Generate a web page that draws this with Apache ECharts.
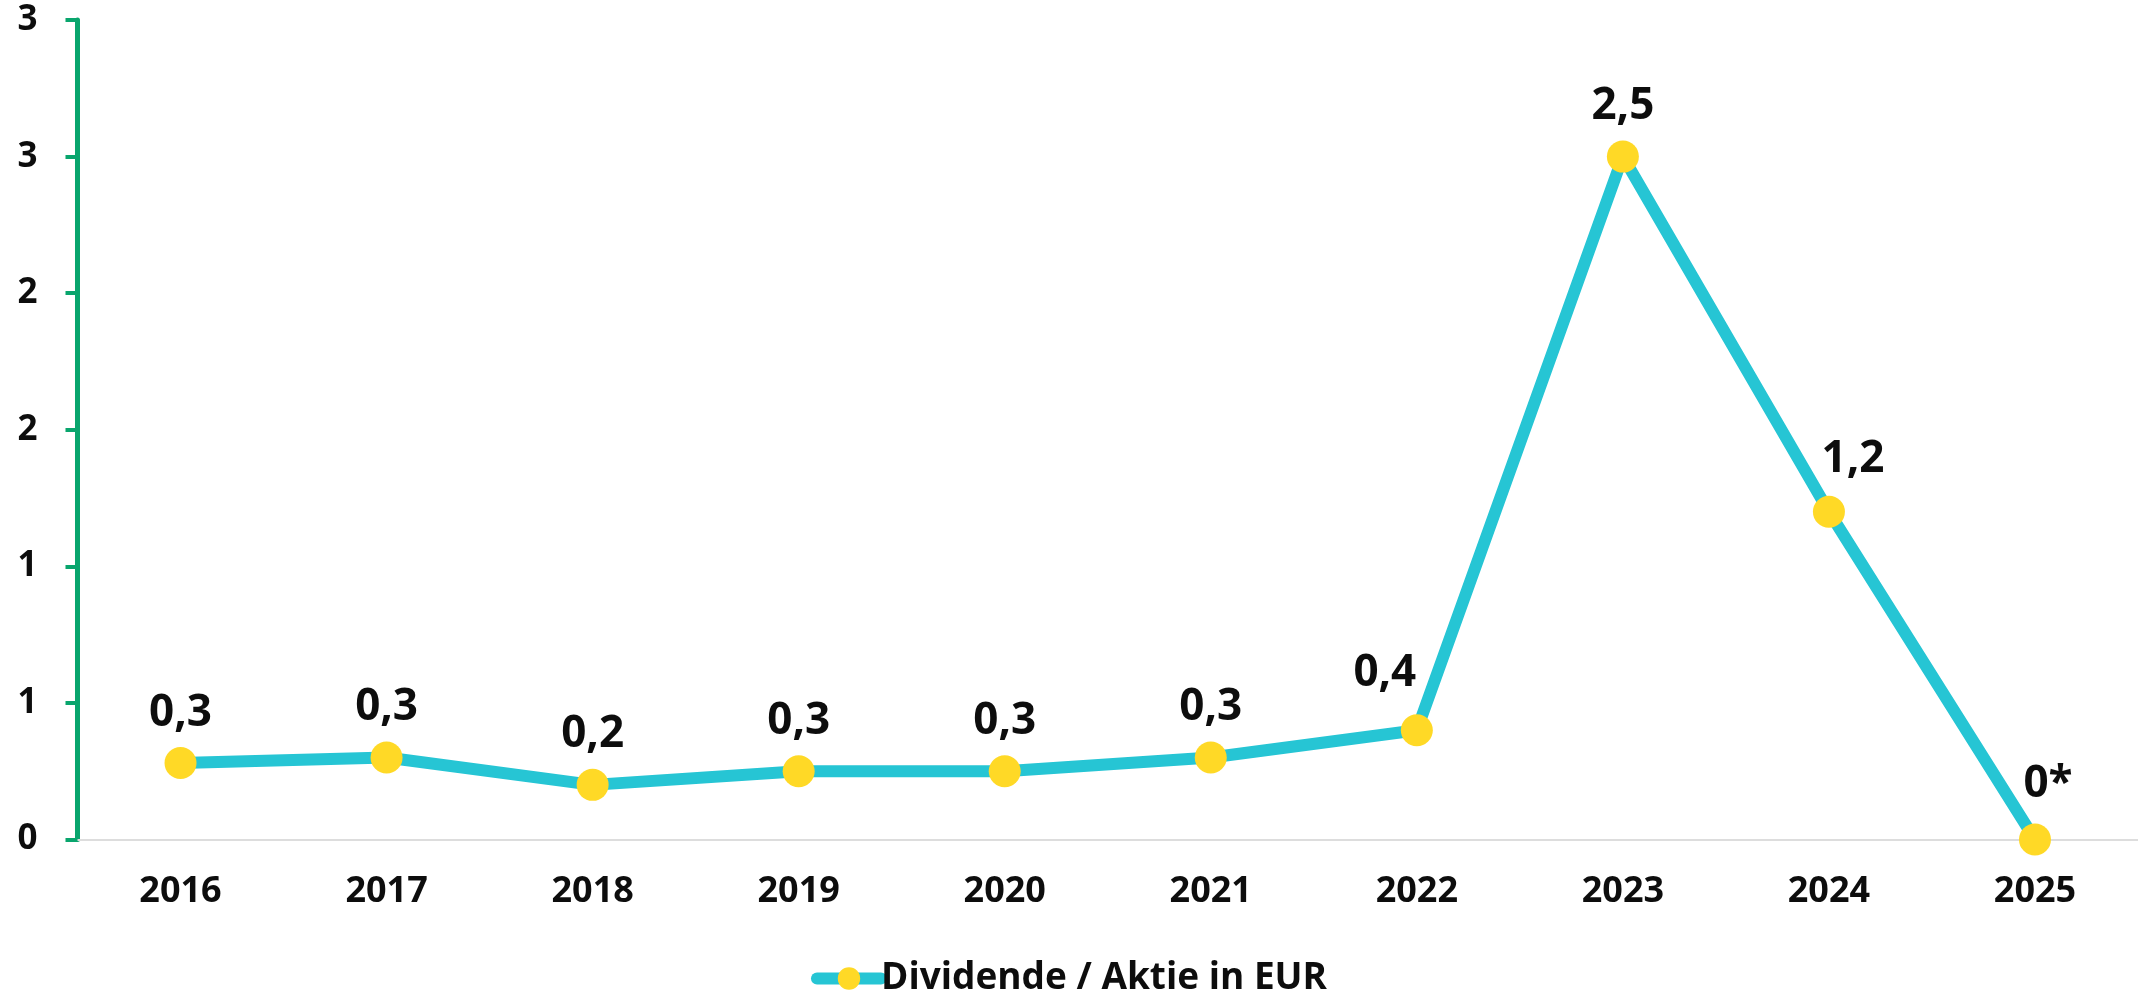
<!DOCTYPE html>
<html>
<head>
<meta charset="utf-8">
<script src="https://cdn.jsdelivr.net/npm/echarts@6/dist/echarts.min.js"></script>
<style>
  html, body { margin: 0; padding: 0; background: #ffffff; }
  #chart { width: 2138px; height: 990px; }
</style>
</head>
<body>
<div id="chart"></div>
<script>
// ---- data ----
const years = ['2016', '2017', '2018', '2019', '2020', '2021', '2022', '2023', '2024', '2025'];
const dividend = [0.28, 0.30, 0.20, 0.25, 0.25, 0.30, 0.40, 2.50, 1.20, 0];
const labelNotes = ['', '', '', '', '', '', '', '', '', '*'];
const seriesName = 'Dividende / Aktie in EUR';
const yMin = 0, yMax = 3, yStep = 0.5;

// ---- label layout (style only) ----
const labelShift = [[0,0],[0,0],[0,0],[0,0],[0,0],[0,0],[-32,-7],[0,0],[24,-2],[13,-5]];

const FONT = '"Open Sans", "Noto Sans", sans-serif';
const WEIGHT = 'bold';
const chart = echarts.init(document.getElementById('chart'));

const seriesData = dividend.map((v, i) => ({
  value: v,
  label: { offset: labelShift[i] }
}));

chart.setOption({
  animation: false,
  backgroundColor: '#ffffff',
  grid: { left: 77.5, right: 0, top: 20, bottom: 150.5, containLabel: false },
  legend: {
    data: [seriesName],
    top: 955,
    left: 'center',
    itemWidth: 64,
    itemHeight: 28,
    itemGap: 10,
    lineStyle: { width: 12, cap: 'round' },
    textStyle: { fontFamily: FONT, fontWeight: WEIGHT, fontSize: 37, color: '#0d0d0d', padding: [0, 0, 0, -5] }
  },
  xAxis: {
    type: 'category',
    data: years,
    boundaryGap: true,
    axisLine: { show: true, lineStyle: { color: '#dddddd', width: 2 } },
    axisTick: { show: false },
    splitLine: { show: false },
    axisLabel: { fontFamily: FONT, fontWeight: WEIGHT, fontSize: 36, color: '#0d0d0d', margin: 34 }
  },
  yAxis: {
    type: 'value',
    min: yMin,
    max: yMax,
    interval: yStep,
    axisLine: { show: true, lineStyle: { color: '#09a56d', width: 5 } },
    axisTick: { show: true, length: 12, lineStyle: { color: '#09a56d', width: 4 } },
    splitLine: { show: false },
    axisLabel: {
      fontFamily: FONT, fontWeight: WEIGHT, fontSize: 35, color: '#0d0d0d', margin: 40,
      formatter: v => String(Math.round(v))
    }
  },
  series: [{
    name: seriesName,
    type: 'line',
    data: seriesData,
    smooth: false,
    symbol: 'circle',
    symbolSize: 32,
    showAllSymbol: true,
    lineStyle: { color: '#26c5d4', width: 12 },
    itemStyle: { color: '#ffd926', borderWidth: 0 },
    label: {
      show: true,
      position: 'top',
      distance: 12,
      fontFamily: FONT,
      fontWeight: WEIGHT,
      fontSize: 44,
      color: '#0d0d0d',
      formatter: p => {
        const v = dividend[p.dataIndex];
        const txt = v === 0 ? '0' : v.toFixed(1).replace('.', ',');
        return txt + labelNotes[p.dataIndex];
      }
    }
  }]
});
</script>
</body>
</html>
